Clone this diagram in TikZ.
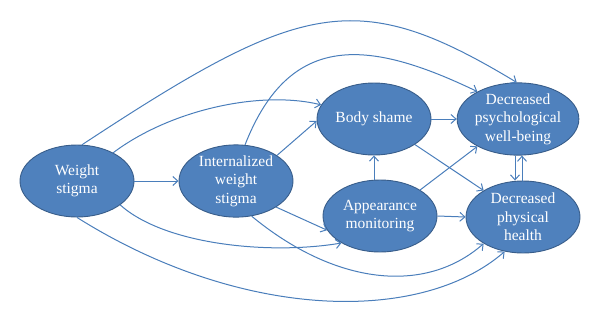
\documentclass[tikz,border=0pt]{standalone}
\usepackage{fontspec}
\setmainfont{Liberation Serif}
\usetikzlibrary{shapes.geometric,arrows.meta}
\definecolor{nodefill}{HTML}{4F81BD}
\definecolor{nodeedge}{HTML}{385D8A}
\definecolor{edgecol}{HTML}{4A7EBB}
\tikzset{
  factor/.style={ellipse, draw=nodeedge, fill=nodefill, line width=0.9pt,
    minimum width=114pt, minimum height=72pt, inner sep=0pt,
    text=white, align=center,
    font=\fontsize{15.5pt}{18.5pt}\selectfont},
  link/.style={draw=edgecol, line width=1pt,
    -{Straight Barb[length=5pt,width=9pt,line width=1pt]}}
}
\begin{document}
\begin{tikzpicture}[x=1pt,y=-1pt]
\useasboundingbox (0,0) rectangle (600,322);
\node[factor] (ws)  at (77,181)  {Weight\\stigma};
\node[factor] (iws) at (236,181) {Internalized\\weight\\stigma};
\node[factor] (bs)  at (374,119) {Body shame};
\node[factor] (am)  at (380,216) {Appearance\\monitoring};
\node[factor] (dpw) at (518,119) {Decreased\\psychological\\well-being};
\node[factor] (dph) at (523,217) {Decreased\\physical\\health};

% straight links
\draw[link] (ws.east) -- (iws.west);
\draw[link] (iws.32) -- (bs.182);
\draw[link] (iws.-33) -- (am.195);
\draw[link] (bs.east) -- (dpw.west);
\draw[link] (bs.-32) -- (dph.146);
\draw[link] (am.33) -- (dpw.214);
\draw[link] (am.east) -- (dph.west);
\draw[link] (bs.south |- am.north) -- (bs.south);
\draw[link] ([xshift=-3pt]dpw.south) -- ([xshift=-3pt]dpw.south |- dph.north);
\draw[link] ([xshift=-1pt]dph.north) -- ([xshift=-1pt]dph.north |- dpw.south);

% curved links
\draw[link] (ws.82) .. controls (302,0) and (357,-14) .. (dpw.92);
\draw[link] (ws.38) .. controls (170,110) and (260,90) .. (bs.165);
\draw[link] (iws.76) .. controls (290,30) and (370,40) .. (dpw.146);
\draw[link] (ws.-29) .. controls (165,245) and (270,255) .. (am.215);
\draw[link] (iws.-66) .. controls (335,285) and (425,295) .. (dph.214);
\draw[link] (ws.-90) .. controls (240,320) and (420,325) .. (dph.242);
\end{tikzpicture}
\end{document}
